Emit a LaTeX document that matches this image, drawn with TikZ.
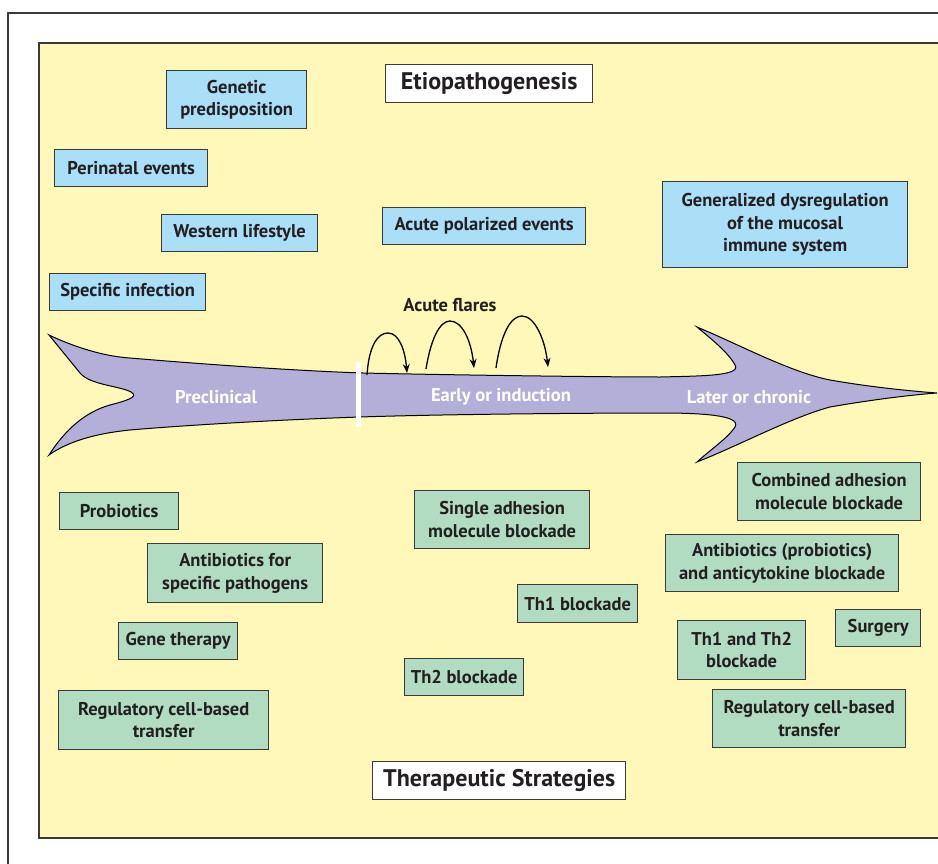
\documentclass[tikz,border=0pt]{standalone}
\usepackage{fontspec}
\setmainfont{PT Sans}
\usetikzlibrary{arrows.meta}
\definecolor{panel}{HTML}{FFF8B8}
\definecolor{bluef}{HTML}{AADFF7}
\definecolor{greenf}{HTML}{B2DCC2}
\definecolor{lav}{HTML}{B4AFD8}
\definecolor{edge}{HTML}{3A3A3A}
\definecolor{txt}{HTML}{231F20}
\tikzset{
  box/.style={draw=edge, line width=1.3pt, text=txt, align=center, inner sep=0pt,
    anchor=north west, font=\bfseries\fontsize{18.5}{22.5}\selectfont},
  bbox/.style={box, fill=bluef},
  gbox/.style={box, fill=greenf},
  wbox/.style={box, fill=white, font=\bfseries\fontsize{24}{26}\selectfont},
  phase/.style={text=white, font=\bfseries\fontsize{18.5}{20}\selectfont},
  flare/.style={line width=1.3pt, -{Stealth[length=9pt,width=7pt]}},
}
\begin{document}
\begin{tikzpicture}[x=1pt,y=-1pt]
\useasboundingbox (0,0) rectangle (938,864);
\clip (0,0) rectangle (938,864);
% outer frame
\draw[edge, line width=1.2pt] (950,13) -- (8,13) -- (8,880);
% panel
\fill[panel] (39,43) rectangle (950,838);
\draw[edge, line width=1.5pt] (950,43) -- (39,43) -- (39,838) -- (950,838);
% big arrow
\draw[fill=lav, line width=1pt]
  (49,335) .. controls (70,345) and (100,356) .. (130,358)
  .. controls (200,364) and (300,371) .. (363,373)
  .. controls (450,375) and (600,377) .. (660,377)
  .. controls (700,376) and (742,376) .. (735,365)
  .. controls (728,352) and (710,338) .. (697,327)
  .. controls (740,345) and (790,372) .. (830,380)
  .. controls (870,387) and (910,391) .. (937,393)
  .. controls (910,395) and (870,400) .. (830,407)
  .. controls (790,418) and (740,445) .. (697,462)
  .. controls (710,450) and (728,438) .. (735,427)
  .. controls (742,415) and (700,413) .. (660,413)
  .. controls (600,413) and (450,414) .. (360,417)
  .. controls (300,419) and (200,424) .. (130,430)
  .. controls (100,433) and (70,440) .. (49,455)
  .. controls (65,430) and (85,412) .. (110,405)
  .. controls (125,401) and (140,397) .. (131,392)
  .. controls (120,386) and (90,385) .. (80,373)
  -- cycle;
\fill[white] (356,362) rectangle (361,427);
\node[phase] (pre) at (216,397) {Preclinical};
\node[phase] (early) at (501,397) {Early or induction};
\node[phase] (late) at (749,397) {Later or chronic};
% flares
\node[text=txt, font=\bfseries\fontsize{18.5}{20}\selectfont] (flares) at (450,305) {Acute flares};
\coordinate (f1a) at (367,375); \coordinate (f1b) at (407,373);
\coordinate (f2a) at (426,369); \coordinate (f2b) at (474,368);
\coordinate (f3a) at (496,368); \coordinate (f3b) at (548,367);
\draw[flare] (f1a) .. controls (369,345) and (378,333) .. (388,333) .. controls (399,333) and (405,350) .. (f1b);
\draw[flare] (f2a) .. controls (431,338) and (440,321) .. (450,321) .. controls (462,321) and (471,340) .. (f2b);
\draw[flare] (f3a) .. controls (501,333) and (511,316) .. (522,316) .. controls (535,316) and (545,340) .. (f3b);
% titles
\node[wbox, minimum width=207pt, minimum height=38pt] (etio) at (385,64) {Etiopathogenesis};
\node[wbox, minimum width=253pt, minimum height=38pt] (ther) at (372,761) {Therapeutic Strategies};
% etiopathogenesis boxes
\node[bbox, minimum width=140pt, minimum height=58pt] (gen) at (166,70) {Genetic\\predisposition};
\node[bbox, minimum width=153pt, minimum height=37pt] (peri) at (54,149) {Perinatal events};
\node[bbox, minimum width=156pt, minimum height=37pt] (west) at (161,214) {Western lifestyle};
\node[bbox, minimum width=156pt, minimum height=37pt] (spec) at (49,273) {Specific infection};
\node[bbox, minimum width=203pt, minimum height=37pt] (acute) at (382,207) {Acute polarized events};
\node[bbox, minimum width=245pt, minimum height=86pt] (dys) at (662,181) {Generalized dysregulation\\of the mucosal\\immune system};
% therapeutic boxes
\node[gbox, minimum width=119pt, minimum height=37pt] (prob) at (59,492) {Probiotics};
\node[gbox, minimum width=175pt, minimum height=59pt] (anti) at (147,543) {Antibiotics for\\specific pathogens};
\node[gbox, minimum width=119pt, minimum height=37pt] (gene) at (118,622) {Gene therapy};
\node[gbox, minimum width=210pt, minimum height=59pt] (reg1) at (58,690) {Regulatory cell-based\\transfer};
\node[gbox, minimum width=175pt, minimum height=58pt] (single) at (414,490) {Single adhesion\\molecule blockade};
\node[gbox, minimum width=120pt, minimum height=38pt] (th1) at (517,584) {Th1 blockade};
\node[gbox, minimum width=119pt, minimum height=37pt] (th2) at (404,658) {Th2 blockade};
\node[gbox, minimum width=183pt, minimum height=58pt] (comb) at (737,462) {Combined adhesion\\molecule blockade};
\node[gbox, minimum width=233pt, minimum height=57pt] (antip) at (665,534) {Antibiotics (probiotics)\\and anticytokine blockade};
\node[gbox, minimum width=85pt, minimum height=37pt] (surg) at (835,609) {Surgery};
\node[gbox, minimum width=128pt, minimum height=59pt] (th12) at (677,620) {Th1 and Th2\\blockade};
\node[gbox, minimum width=193pt, minimum height=58pt] (reg2) at (712,689) {Regulatory cell-based\\transfer};
\end{tikzpicture}
\end{document}
